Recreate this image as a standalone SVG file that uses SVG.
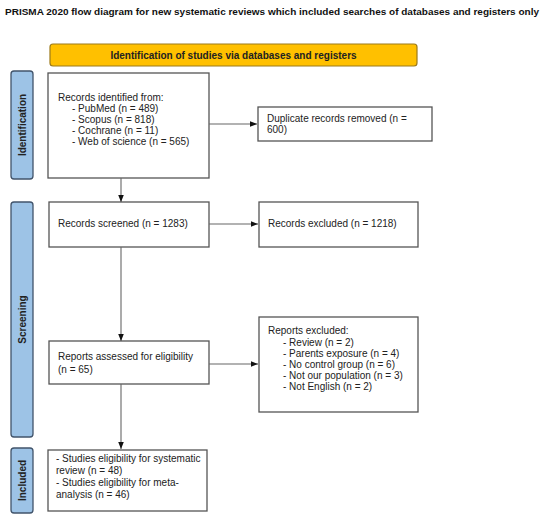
<svg xmlns="http://www.w3.org/2000/svg" width="550" height="516" viewBox="0 0 550 516">
<defs>
<marker id="arr" viewBox="0 0 10 10" refX="10" refY="5" markerWidth="7" markerHeight="7" markerUnits="userSpaceOnUse" orient="auto">
<path d="M0,1 L10,5 L0,9 z" fill="#111"/>
</marker>
</defs>
<style>
.box{fill:#fff;stroke:#555;stroke-width:1.3}
.side{fill:#9DC3E6;stroke:#41546b;stroke-width:1.3}
.banner{fill:#FFC000;stroke:#9c7a1a;stroke-width:1.2}
.t{font-family:"Liberation Sans",Arial,sans-serif;font-size:10px;fill:#222}
.sl{font-family:"Liberation Sans",Arial,sans-serif;font-size:10px;font-weight:bold;fill:#222;text-anchor:middle}
.title{font-family:"Liberation Sans",Arial,sans-serif;font-size:9.6px;font-weight:bold;fill:#111}
.c{stroke:#666;stroke-width:1.1;fill:none}
</style>
<rect width="550" height="516" fill="#fff"/>
<text class="title" x="5" y="15" textLength="534" lengthAdjust="spacingAndGlyphs">PRISMA 2020 flow diagram for new systematic reviews which included searches of databases and registers only</text>

<g id="banner">
<rect class="banner" x="50" y="44" width="367" height="22" rx="3"/>
<text class="t" x="233.5" y="59" text-anchor="middle" font-weight="bold" font-size="9.7">Identification of studies via databases and registers</text>
</g>

<g id="side-identification">
<rect class="side" x="11" y="71" width="22" height="108" rx="3"/>
<text class="sl" transform="translate(25.5,125) rotate(-90)">Identification</text>
</g>
<g id="side-screening">
<rect class="side" x="11" y="202" width="22" height="235" rx="3"/>
<text class="sl" transform="translate(25.5,319.5) rotate(-90)">Screening</text>
</g>
<g id="side-included">
<rect class="side" x="11" y="448" width="22" height="65" rx="3"/>
<text class="sl" transform="translate(25.5,480.5) rotate(-90)">Included</text>
</g>

<g id="records-identified">
<rect class="box" x="48" y="73" width="161" height="105"/>
<text class="t" x="58" y="101">Records identified from:</text>
<text class="t" x="72" y="112">- PubMed (n = 489)</text>
<text class="t" x="72" y="123">- Scopus (n = 818)</text>
<text class="t" x="72" y="134">- Cochrane (n = 11)</text>
<text class="t" x="72" y="145">- Web of science (n = 565)</text>
</g>

<g id="duplicates">
<rect class="box" x="258" y="107" width="174" height="34"/>
<text class="t" x="267" y="122">Duplicate records removed (n =</text>
<text class="t" x="267" y="133">600)</text>
</g>

<g id="records-screened">
<rect class="box" x="49" y="202" width="160" height="45"/>
<text class="t" x="58" y="227">Records screened (n = 1283)</text>
</g>

<g id="records-excluded">
<rect class="box" x="259" y="202" width="159" height="45"/>
<text class="t" x="268" y="227">Records excluded (n = 1218)</text>
</g>

<g id="reports-assessed">
<rect class="box" x="49" y="341" width="160" height="43"/>
<text class="t" x="58" y="360">Reports assessed for eligibility</text>
<text class="t" x="58" y="373">(n = 65)</text>
</g>

<g id="reports-excluded">
<rect class="box" x="259" y="317" width="159" height="95"/>
<text class="t" x="268" y="334">Reports excluded:</text>
<text class="t" x="283" y="346">- Review (n = 2)</text>
<text class="t" x="283" y="357">- Parents exposure (n = 4)</text>
<text class="t" x="283" y="368">- No control group (n = 6)</text>
<text class="t" x="283" y="379">- Not our population (n = 3)</text>
<text class="t" x="283" y="390">- Not English (n = 2)</text>
</g>

<g id="included">
<rect class="box" x="48" y="450" width="159" height="61"/>
<text class="t" x="56" y="462">- Studies eligibility for systematic</text>
<text class="t" x="56" y="474">review (n = 48)</text>
<text class="t" x="56" y="486">- Studies eligibility for meta-</text>
<text class="t" x="56" y="498">analysis (n = 46)</text>
</g>

<g id="connectors">
<line class="c" x1="209" y1="124" x2="257" y2="124" marker-end="url(#arr)"/>
<line class="c" x1="121" y1="178" x2="121" y2="202" marker-end="url(#arr)"/>
<line class="c" x1="209" y1="224" x2="258" y2="224" marker-end="url(#arr)"/>
<line class="c" x1="121" y1="247" x2="121" y2="341" marker-end="url(#arr)"/>
<line class="c" x1="209" y1="364" x2="258" y2="364" marker-end="url(#arr)"/>
<line class="c" x1="121" y1="384" x2="121" y2="449" marker-end="url(#arr)"/>
</g>
</svg>
